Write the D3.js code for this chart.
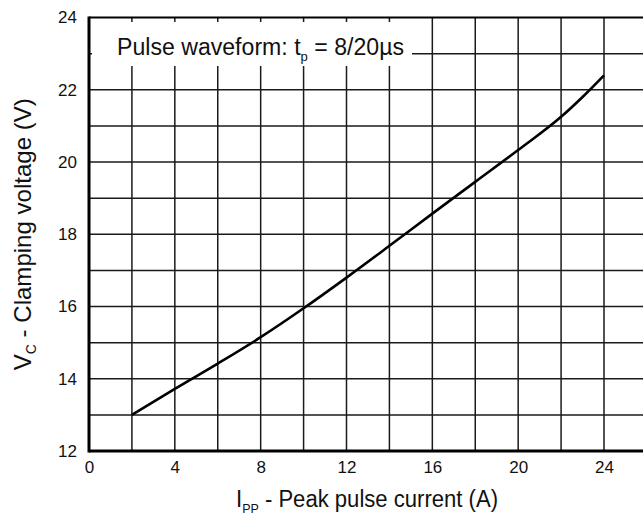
<!DOCTYPE html>
<html><head><meta charset="utf-8">
<script src="https://cdn.jsdelivr.net/npm/d3@7"></script>
<style>body{margin:0;background:#fff}svg{display:block}text{font-family:"Liberation Sans",Arial,sans-serif;fill:#111}</style>
</head><body>
<script>
const currentA = [2, 4, 6, 8, 10, 12, 14, 16, 18, 20, 22, 23, 24];
const clampV = [13.0, 13.72, 14.42, 15.15, 15.95, 16.8, 17.68, 18.57, 19.45, 20.33, 21.25, 21.8, 22.4];
const xTicks = [0, 4, 8, 12, 16, 20, 24];
const yTicks = [12, 14, 16, 18, 20, 22, 24];
const xGrid = [2, 4, 6, 8, 10, 12, 14, 16, 18, 20, 22, 24, 26];
const yGrid = [13, 14, 15, 16, 17, 18, 19, 20, 21, 22, 23];

const W = 643, H = 523;
const svg = d3.select("body").append("svg").attr("width", W).attr("height", H);
const x = d3.scaleLinear().domain([0, 24]).range([89, 604]);
const y = d3.scaleLinear().domain([12, 24]).range([451, 17.5]);
const x0 = x(0), xEnd = W + 5;

const g = svg.append("g");
g.selectAll(".vg").data(xGrid).join("line")
  .attr("x1", d => x(d)).attr("x2", d => x(d))
  .attr("y1", y(24)).attr("y2", y(12))
  .attr("stroke", "#1a1a1a").attr("stroke-width", 1.5);
g.selectAll(".hg").data(yGrid).join("line")
  .attr("x1", x0).attr("x2", xEnd)
  .attr("y1", d => y(d)).attr("y2", d => y(d))
  .attr("stroke", "#1a1a1a").attr("stroke-width", 1.5);

// label box
svg.append("rect").attr("x", x0 + 3).attr("y", 22).attr("width", 412 - x0 - 3).attr("height", 44).attr("fill", "#fff");
const lbl = svg.append("text").attr("x", 117).attr("y", 55).attr("font-size", 23)
  .attr("textLength", 287).attr("lengthAdjust", "spacingAndGlyphs");
lbl.append("tspan").text("Pulse waveform: t");
lbl.append("tspan").attr("font-size", 13).attr("dy", 6).text("p");
lbl.append("tspan").attr("dy", -6).text(" = 8/20µs");

// frame
svg.append("line").attr("x1", x0).attr("x2", xEnd).attr("y1", y(24)).attr("y2", y(24)).attr("stroke", "#000").attr("stroke-width", 2);
svg.append("line").attr("x1", x0).attr("x2", xEnd).attr("y1", y(12)).attr("y2", y(12)).attr("stroke", "#000").attr("stroke-width", 3);
svg.append("line").attr("x1", x0).attr("x2", x0).attr("y1", y(24) - 1).attr("y2", y(12) + 1.5).attr("stroke", "#000").attr("stroke-width", 3);

// curve
const line = d3.line().x((d, i) => x(currentA[i])).y(d => y(d)).curve(d3.curveMonotoneX);
svg.append("path").attr("d", line(clampV)).attr("fill", "none").attr("stroke", "#000").attr("stroke-width", 2.6);

// axes labels
const xAxis = d3.axisBottom(x).tickValues(xTicks).tickSize(0).tickPadding(10);
const xa = svg.append("g").attr("transform", `translate(0,${y(12)})`).call(xAxis);
xa.select(".domain").remove();
xa.selectAll("text").attr("font-size", 17).attr("fill", "#111").style("font-family", "Liberation Sans, Arial, sans-serif");
const yAxis = d3.axisLeft(y).tickValues(yTicks).tickSize(0).tickPadding(12);
const ya = svg.append("g").attr("transform", `translate(${x0},0)`).call(yAxis);
ya.select(".domain").remove();
ya.selectAll("text").attr("font-size", 17).attr("fill", "#111").style("font-family", "Liberation Sans, Arial, sans-serif");

// titles
const xt = svg.append("text").attr("x", 367).attr("y", 507).attr("text-anchor", "middle").attr("font-size", 23)
  .attr("textLength", 262).attr("lengthAdjust", "spacingAndGlyphs");
xt.append("tspan").text("I");
xt.append("tspan").attr("font-size", 13).attr("dy", 6).text("PP");
xt.append("tspan").attr("dy", -6).text(" - Peak pulse current (A)");

const yt = svg.append("text").attr("transform", `translate(31,${(y(12) + y(24)) / 2}) rotate(-90)`).attr("text-anchor", "middle").attr("font-size", 24)
  .attr("textLength", 272).attr("lengthAdjust", "spacingAndGlyphs");
yt.append("tspan").text("V");
yt.append("tspan").attr("font-size", 14).attr("dy", 5).text("C");
yt.append("tspan").attr("dy", -5).text(" - Clamping voltage (V)");
</script>
</body></html>
